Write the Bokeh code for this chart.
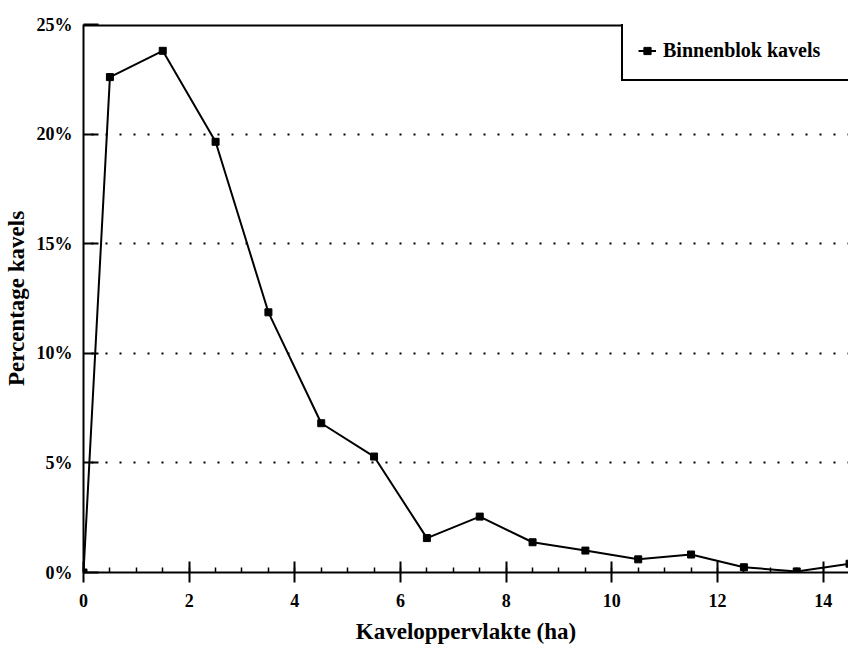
from bokeh.plotting import figure
from bokeh.models import (Range1d, Legend, LegendItem, Span, FixedTicker,
                          SingleIntervalTicker, PrintfTickFormatter)
from bokeh.embed import file_html
from bokeh.resources import INLINE

# data
area_ha = [0, 0.5, 1.5, 2.5, 3.5, 4.5, 5.5, 6.5, 7.5, 8.5, 9.5, 10.5, 11.5, 12.5, 13.5, 14.5]
pct_kavels = [0, 22.6, 23.8, 19.65, 11.87, 6.81, 5.29, 1.57, 2.55, 1.38, 1.0, 0.6, 0.82, 0.24, 0.05, 0.4]
series_name = "Binnenblok kavels"
x_label = "Kaveloppervlakte (ha)"
y_label = "Percentage kavels"
y_ticks = [0, 5, 10, 15, 20, 25]
grid_ticks = [5, 10, 15, 20]

FONT = "Liberation Serif"

p = figure(width=848, height=647, output_backend="svg", toolbar_location=None,
           x_range=Range1d(0, 14.48), y_range=Range1d(0, 25),
           min_border_left=83, min_border_top=24, min_border_right=0, min_border_bottom=75)
p.outline_line_color = None
p.background_fill_color = "white"
p.border_fill_color = "white"

line = p.line(area_ha, pct_kavels, line_color="black", line_width=2)
pts = p.scatter(area_ha, pct_kavels, marker="square", size=7, fill_color="black", line_color="black")

# top frame line (half of it is clipped at the frame edge)
p.add_layout(Span(location=25, dimension="width", line_color="black", line_width=4))

# x axis
xa = p.xaxis[0]
xa.ticker = SingleIntervalTicker(interval=2, num_minor_ticks=4)
xa.axis_label = x_label
xa.axis_line_width = 2
xa.major_tick_in = 11
xa.major_tick_out = 10
xa.major_tick_line_width = 2
xa.minor_tick_in = 5
xa.minor_tick_out = 0
xa.minor_tick_line_width = 1.5
xa.major_label_standoff = 11
xa.major_label_text_font = FONT
xa.major_label_text_font_style = "bold"
xa.major_label_text_font_size = "18px"
xa.major_label_text_color = "black"
xa.axis_label_text_font = FONT
xa.axis_label_text_font_style = "bold"
xa.axis_label_text_font_size = "23px"
xa.axis_label_text_color = "black"
xa.axis_label_standoff = 9

# y axis
ya = p.yaxis[0]
ya.ticker = FixedTicker(ticks=y_ticks)
ya.formatter = PrintfTickFormatter(format="%d%%")
ya.axis_label = y_label
ya.axis_line_width = 2
ya.major_tick_in = 15
ya.major_tick_out = 0
ya.major_tick_line_width = 2
ya.minor_tick_line_color = None
ya.major_label_standoff = 11
ya.major_label_text_font = FONT
ya.major_label_text_font_style = "bold"
ya.major_label_text_font_size = "18px"
ya.major_label_text_color = "black"
ya.axis_label_text_font = FONT
ya.axis_label_text_font_style = "bold"
ya.axis_label_text_font_size = "23px"
ya.axis_label_text_color = "black"
ya.axis_label_standoff = 5

# grid
p.xgrid.grid_line_color = None
p.ygrid.ticker = FixedTicker(ticks=grid_ticks)
p.ygrid.grid_line_color = "black"
p.ygrid.grid_line_width = 2
p.ygrid.grid_line_dash = "2 12"
p.ygrid.grid_line_dash_offset = 6

legend = Legend(items=[LegendItem(label=series_name, renderers=[line, pts])],
                location=(538, 491), orientation="vertical",
                border_line_color="black", border_line_width=2.5, border_line_alpha=1,
                background_fill_color="white", background_fill_alpha=1,
                padding=15, margin=0, spacing=0,
                glyph_width=18, glyph_height=27, label_height=27, label_width=220,
                label_standoff=7,
                label_text_font=FONT, label_text_font_style="bold",
                label_text_font_size="20px", label_text_color="black")
p.add_layout(legend, "center")

open("out.html", "w").write(file_html(p, INLINE))
